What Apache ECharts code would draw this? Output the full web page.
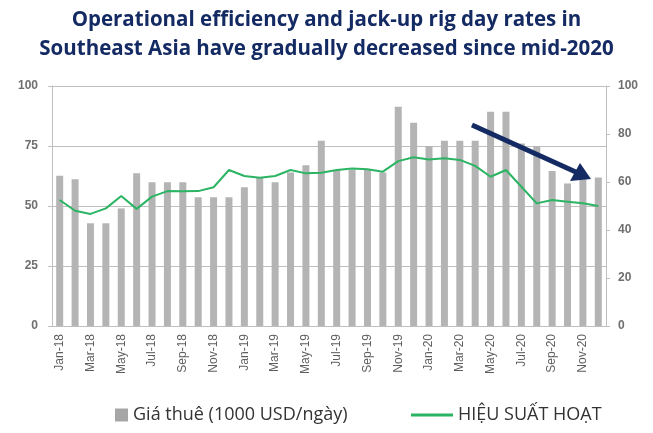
<!DOCTYPE html>
<html>
<head>
<meta charset="utf-8">
<script src="https://cdn.jsdelivr.net/npm/echarts@6/dist/echarts.min.js"></script>
<style>
  html, body { margin: 0; padding: 0; background: #fff; }
  #chart { width: 653px; height: 433px; }
</style>
</head>
<body>
<div id="chart"></div>
<script>
const months = [
  'Jan-18', 'Feb-18', 'Mar-18', 'Apr-18', 'May-18', 'Jun-18', 'Jul-18', 'Aug-18', 'Sep-18', 'Oct-18', 'Nov-18', 'Dec-18',
  'Jan-19', 'Feb-19', 'Mar-19', 'Apr-19', 'May-19', 'Jun-19', 'Jul-19', 'Aug-19', 'Sep-19', 'Oct-19', 'Nov-19', 'Dec-19',
  'Jan-20', 'Feb-20', 'Mar-20', 'Apr-20', 'May-20', 'Jun-20', 'Jul-20', 'Aug-20', 'Sep-20', 'Oct-20', 'Nov-20', 'Dec-20'
];

// day rates (1000 USD/day), left axis
const dayRates = [
  62.6, 61.1, 42.8, 42.8, 49.0, 63.6, 59.9, 59.9, 59.9, 53.6, 53.6, 53.6,
  57.8, 62.0, 59.9, 64.0, 67.0, 77.2, 65.0, 65.0, 65.0, 64.0, 91.4, 84.7,
  75.0, 77.2, 77.2, 77.2, 89.3, 89.3, 76.0, 75.0, 64.6, 59.4, 62.0, 61.9
];

// utilisation, right axis
const utilisation = [
  52.5, 48.0, 46.7, 49.0, 54.2, 48.8, 53.9, 56.2, 56.1, 56.2, 57.8, 65.0,
  62.5, 61.8, 62.5, 65.0, 63.6, 63.9, 65.0, 65.6, 65.3, 64.3, 68.7, 70.3,
  69.4, 69.9, 69.2, 66.7, 62.2, 65.0, 58.0, 51.1, 52.5, 51.8, 51.1, 50.0
];

const titleLines = [
  'Operational efficiency and jack-up rig day rates in',
  'Southeast Asia have gradually decreased since mid-2020'
];

const barName = 'Giá thuê (1000 USD/ngày)';
const lineName = 'HIỆU SUẤT HOẠT';

const chart = echarts.init(document.getElementById('chart'));

const axisGrey = '#bfbfbf';
const labelGrey = '#6e6e6e';
const legendText = {
  color: '#333',
  fontSize: 18,
  fontFamily: '"Open Sans", sans-serif'
};

const option = {
  backgroundColor: '#ffffff',
  animation: false,
  title: {
    text: titleLines.join('\n'),
    left: 'center',
    top: 1,
    textStyle: {
      color: '#142a63',
      fontSize: 20.5,
      fontWeight: 'bold',
      fontFamily: '"Open Sans", sans-serif',
      lineHeight: 29
    }
  },
  legend: [
    {
      left: 110,
      bottom: 4,
      itemWidth: 13,
      itemHeight: 13,
      icon: 'rect',
      textStyle: legendText,
      data: [{ name: barName, itemStyle: { color: '#a6a6a6' } }]
    },
    {
      left: 406,
      bottom: 4,
      itemWidth: 42,
      itemHeight: 3,
      icon: 'rect',
      textStyle: legendText,
      data: [{ name: lineName, itemStyle: { color: '#2bb463' } }]
    }
  ],
  grid: {
    left: 52,
    right: 47,
    top: 86,
    bottom: 107
  },
  xAxis: {
    type: 'category',
    data: months,
    axisLine: { lineStyle: { color: axisGrey } },
    axisTick: { interval: 1, length: 4, lineStyle: { color: axisGrey } },
    axisLabel: {
      interval: 1,
      rotate: 90,
      margin: 8,
      color: '#5e5e5e',
      fontSize: 12,
      fontFamily: '"Liberation Sans", Arial, sans-serif'
    }
  },
  yAxis: [
    {
      type: 'value',
      min: 0,
      max: 100,
      interval: 25,
      axisLine: { show: true, lineStyle: { color: axisGrey } },
      axisTick: { show: true, length: 4, lineStyle: { color: axisGrey } },
      axisLabel: {
        margin: 14,
        color: labelGrey,
        fontSize: 12,
        fontWeight: 'bold',
        fontFamily: '"Liberation Sans", Arial, sans-serif'
      },
      splitLine: { lineStyle: { color: axisGrey } }
    },
    {
      type: 'value',
      min: 0,
      max: 100,
      interval: 20,
      position: 'right',
      axisLine: { show: true, lineStyle: { color: axisGrey } },
      axisTick: { show: true, length: 4, lineStyle: { color: axisGrey } },
      axisLabel: {
        margin: 12,
        color: labelGrey,
        fontSize: 12,
        fontWeight: 'bold',
        fontFamily: '"Liberation Sans", Arial, sans-serif'
      },
      splitLine: { show: false }
    }
  ],
  series: [
    {
      name: barName,
      type: 'bar',
      data: dayRates,
      barWidth: 7,
      itemStyle: { color: '#b4b4b4' }
    },
    {
      name: lineName,
      type: 'line',
      yAxisIndex: 1,
      data: utilisation,
      symbol: 'none',
      lineStyle: { color: '#2bb463', width: 2 },
      itemStyle: { color: '#2bb463' }
    }
  ],
  // trend arrow annotation
  graphic: [
    {
      type: 'line',
      shape: { x1: 472, y1: 125, x2: 578, y2: 173 },
      style: { stroke: '#142a63', lineWidth: 5 },
      z: 100
    },
    {
      type: 'polygon',
      shape: { points: [[591, 179], [570, 181], [580, 163]] },
      style: { fill: '#142a63' },
      z: 100
    }
  ]
};

chart.setOption(option);
</script>
</body>
</html>
